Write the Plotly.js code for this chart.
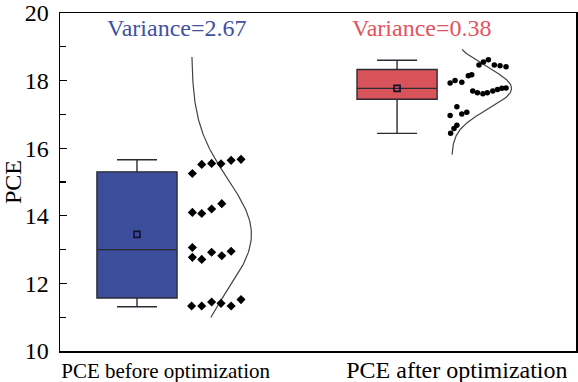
<!DOCTYPE html>
<html>
<head>
<meta charset="utf-8">
<script src="https://cdn.plot.ly/plotly-3.0.1.min.js"></script>
<style>html,body{margin:0;padding:0;background:#fff;}#chart{width:578px;height:382px;}</style>
</head>
<body>
<div id="chart"></div>
<script>
// ---- data ----
const categories = ['PCE before optimization', 'PCE after optimization'];
const groupPos = [1, 2];
const labelPos = [1.11, 2.23];
const boxQ1 = [11.57, 17.45];
const boxMedian = [13.00, 17.77];
const boxQ3 = [15.30, 18.33];
const boxLower = [11.31, 16.44];
const boxUpper = [15.66, 18.60];
const boxMean = [13.45, 17.77];
const variances = [2.67, 0.38];
const curveLo = [10.99, 15.81];
const curveHi = [18.70, 18.92];

const beforeValues = [15.25, 15.52, 15.55, 15.54, 15.64, 15.67,
  14.10, 14.07, 14.20, 14.36,
  13.06, 12.77, 12.71, 12.92, 12.82, 12.95,
  11.33, 11.33, 11.45, 11.41, 11.33, 11.52];
const beforeJitter = [0.213, 0.249, 0.287, 0.323, 0.362, 0.400,
  0.213, 0.249, 0.287, 0.326,
  0.213, 0.213, 0.249, 0.287, 0.326, 0.362,
  0.210, 0.249, 0.287, 0.323, 0.362, 0.400];
const afterValues = [18.46, 18.55, 18.62, 18.46, 18.44, 18.41,
  17.93, 18.00, 17.95, 18.14, 18.17,
  17.69, 17.64, 17.61, 17.64, 17.69, 17.74, 17.77, 17.78,
  17.23, 16.97, 17.01, 17.06,
  16.68, 16.58, 16.44];
const afterJitter = [0.315, 0.332, 0.351, 0.374, 0.396, 0.419,
  0.204, 0.223, 0.249, 0.274, 0.287,
  0.291, 0.309, 0.330, 0.347, 0.368, 0.386, 0.403, 0.419,
  0.230, 0.204, 0.249, 0.268,
  0.230, 0.219, 0.206];

const fills = ['#3c4d9c', '#d9535b'];
const textColors = ['#3f51a3', '#e2545c'];
const SERIF = 'Liberation Serif, Times New Roman, serif';

// ---- traces ----
const traces = [];
for (let i = 0; i < 2; i++) {
  traces.push({
    type: 'box', x: [groupPos[i]], q1: [boxQ1[i]], median: [boxMedian[i]], q3: [boxQ3[i]],
    lowerfence: [boxLower[i]], upperfence: [boxUpper[i]],
    width: 0.308, whiskerwidth: 0.5, fillcolor: fills[i],
    line: {color: '#2b2b33', width: 1.4}, boxpoints: false, hoverinfo: 'skip', showlegend: false
  });
  traces.push({
    type: 'scatter', mode: 'markers', x: [groupPos[i]], y: [boxMean[i]],
    marker: {symbol: 'square-open', size: 6, color: '#111133', line: {width: 1.6}}, showlegend: false
  });
  // fitted normal curve
  const cy = [], cx = [];
  const n = 160;
  for (let k = 0; k <= n; k++) {
    const y = curveLo[i] + (curveHi[i] - curveLo[i]) * k / n;
    const z2 = (y - boxMean[i]) * (y - boxMean[i]) / (2 * variances[i]);
    cy.push(y);
    cx.push(groupPos[i] + 0.21 + 0.23 * Math.exp(-z2));
  }
  traces.push({type: 'scatter', mode: 'lines', x: cx, y: cy,
    line: {color: '#444', width: 1.2}, showlegend: false, hoverinfo: 'skip'});
}
traces.push({type: 'scatter', mode: 'markers', x: beforeJitter.map(d => groupPos[0] + d), y: beforeValues,
  marker: {symbol: 'diamond', size: 7, color: '#000'}, showlegend: false});
traces.push({type: 'scatter', mode: 'markers', x: afterJitter.map(d => groupPos[1] + d), y: afterValues,
  marker: {symbol: 'circle', size: 5.5, color: '#000'}, showlegend: false});

const tickText = [categories[0], '<span style="font-size:24px">' + categories[1] + '</span>'];

const layout = {
  width: 578, height: 382,
  margin: {l: 60, r: 2, t: 13, b: 31},
  paper_bgcolor: '#fff', plot_bgcolor: '#fff',
  font: {family: SERIF, color: '#000'},
  showlegend: false,
  xaxis: {
    range: [0.704, 2.688], tickvals: labelPos, ticktext: tickText,
    tickfont: {family: SERIF, size: 21, color: '#000'}, ticks: '', showgrid: false, zeroline: false,
    showline: true, mirror: true, linecolor: '#000', linewidth: 1.5
  },
  yaxis: {
    range: [10, 20], tickvals: [10, 12, 14, 16, 18, 20], ticks: 'inside', ticklen: 7, tickwidth: 1.2, tickcolor: '#000',
    minor: {tickvals: [11, 13, 15, 17, 19], ticks: 'inside', ticklen: 6, tickwidth: 1.2, tickcolor: '#000'},
    tickfont: {family: SERIF, size: 24, color: '#000'}, ticklabelstandoff: 5, ticklabeloverflow: 'allow',
    title: {text: 'PCE', font: {family: SERIF, size: 24, color: '#000'}, standoff: 12},
    showgrid: false, zeroline: false, showline: true, mirror: true, linecolor: '#000', linewidth: 1.5
  },
  annotations: [
    {x: 1.15, y: 19.56, xref: 'x', yref: 'y', text: 'Variance=' + variances[0].toFixed(2), showarrow: false,
      font: {family: SERIF, size: 24, color: textColors[0]}},
    {x: 2.095, y: 19.56, xref: 'x', yref: 'y', text: 'Variance=' + variances[1].toFixed(2), showarrow: false,
      font: {family: SERIF, size: 24, color: textColors[1]}}
  ]
};
Plotly.newPlot('chart', traces, layout, {displayModeBar: false, staticPlot: true});
</script>
</body>
</html>
